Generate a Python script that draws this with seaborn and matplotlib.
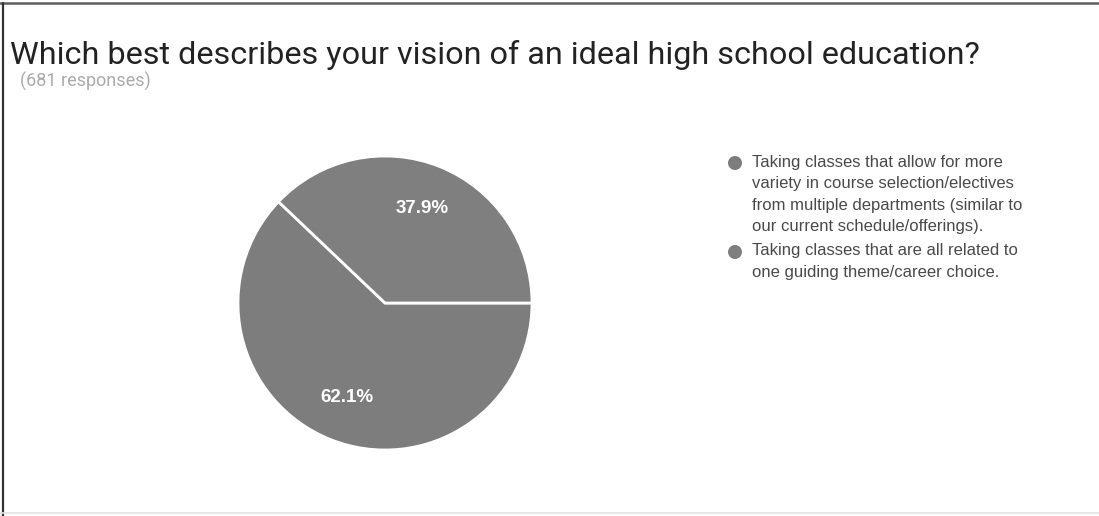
import matplotlib
matplotlib.use("Agg")
import matplotlib.pyplot as plt
import seaborn as sns
from matplotlib.patches import Ellipse
from matplotlib.lines import Line2D

# ---- data ----
title = "Which best describes your vision of an ideal high school education?"
subtitle = "(681 responses)"
categories = [
    "Taking classes that allow for more\nvariety in course selection/electives\nfrom multiple departments (similar to\nour current schedule/offerings).",
    "Taking classes that are all related to\none guiding theme/career choice.",
]
values = [62.1, 37.9]
colors = ["#7d7d7d", "#7f7f7f"]

sns.set_theme(style="white")
plt.rcParams["font.family"] = ["Liberation Sans", "DejaVu Sans"]

W, H = 1099, 516
fig = plt.figure(figsize=(W / 100, H / 100), dpi=100)
fig.patch.set_facecolor("white")

# frame (top, left, faint bottom)
fig.add_artist(Line2D([0, 1], [1 - 3 / H, 1 - 3 / H], transform=fig.transFigure,
                      color="#5e5e5e", linewidth=1.8))
fig.add_artist(Line2D([3 / W, 3 / W], [0, 1 - 3 / H], transform=fig.transFigure,
                      color="#333333", linewidth=1.6))
fig.add_artist(Line2D([0, 1], [3 / H, 3 / H], transform=fig.transFigure,
                      color="#e2e2e2", linewidth=1.2))

# title
fig.text(10 / W, 1 - 64 / H, title, fontsize=23.3, color="#222222",
         family=["Roboto", "DejaVu Sans"], va="baseline", ha="left")
fig.text(20 / W, 1 - 81 / H, subtitle, fontsize=13, color="#ababab",
         family=["Roboto", "DejaVu Sans"], va="center", ha="left")

# pie
cx, cy, r = 385, 303, 147
ax = fig.add_axes([(cx - r) / W, (H - cy - r) / H, 2 * r / W, 2 * r / H])
wedges, texts, autotexts = ax.pie(
    values, colors=colors, startangle=0, counterclock=False,
    autopct="%.1f%%", pctdistance=0.69,
    wedgeprops=dict(edgecolor="white", linewidth=2),
    textprops=dict(color="white", fontsize=13.5, fontweight="bold"),
)
ax.set_xlim(-1, 1)
ax.set_ylim(-1, 1)
ax.set_aspect("equal")
ax.axis("off")

# legend
line_h = 22
y0 = 163
for lab, col in zip(categories, colors):
    fig.add_artist(Ellipse((735 / W, 1 - y0 / H), 14 / W, 14 / H,
                           transform=fig.transFigure, facecolor=col, edgecolor="none"))
    fig.text(752 / W, 1 - y0 / H + 8.5 / H, lab, fontsize=12, color="#4a4a4a",
             va="top", ha="left", linespacing=1.55)
    y0 += line_h * (lab.count("\n") + 1) + 1

fig.savefig("out.png", dpi=100, facecolor="white")
